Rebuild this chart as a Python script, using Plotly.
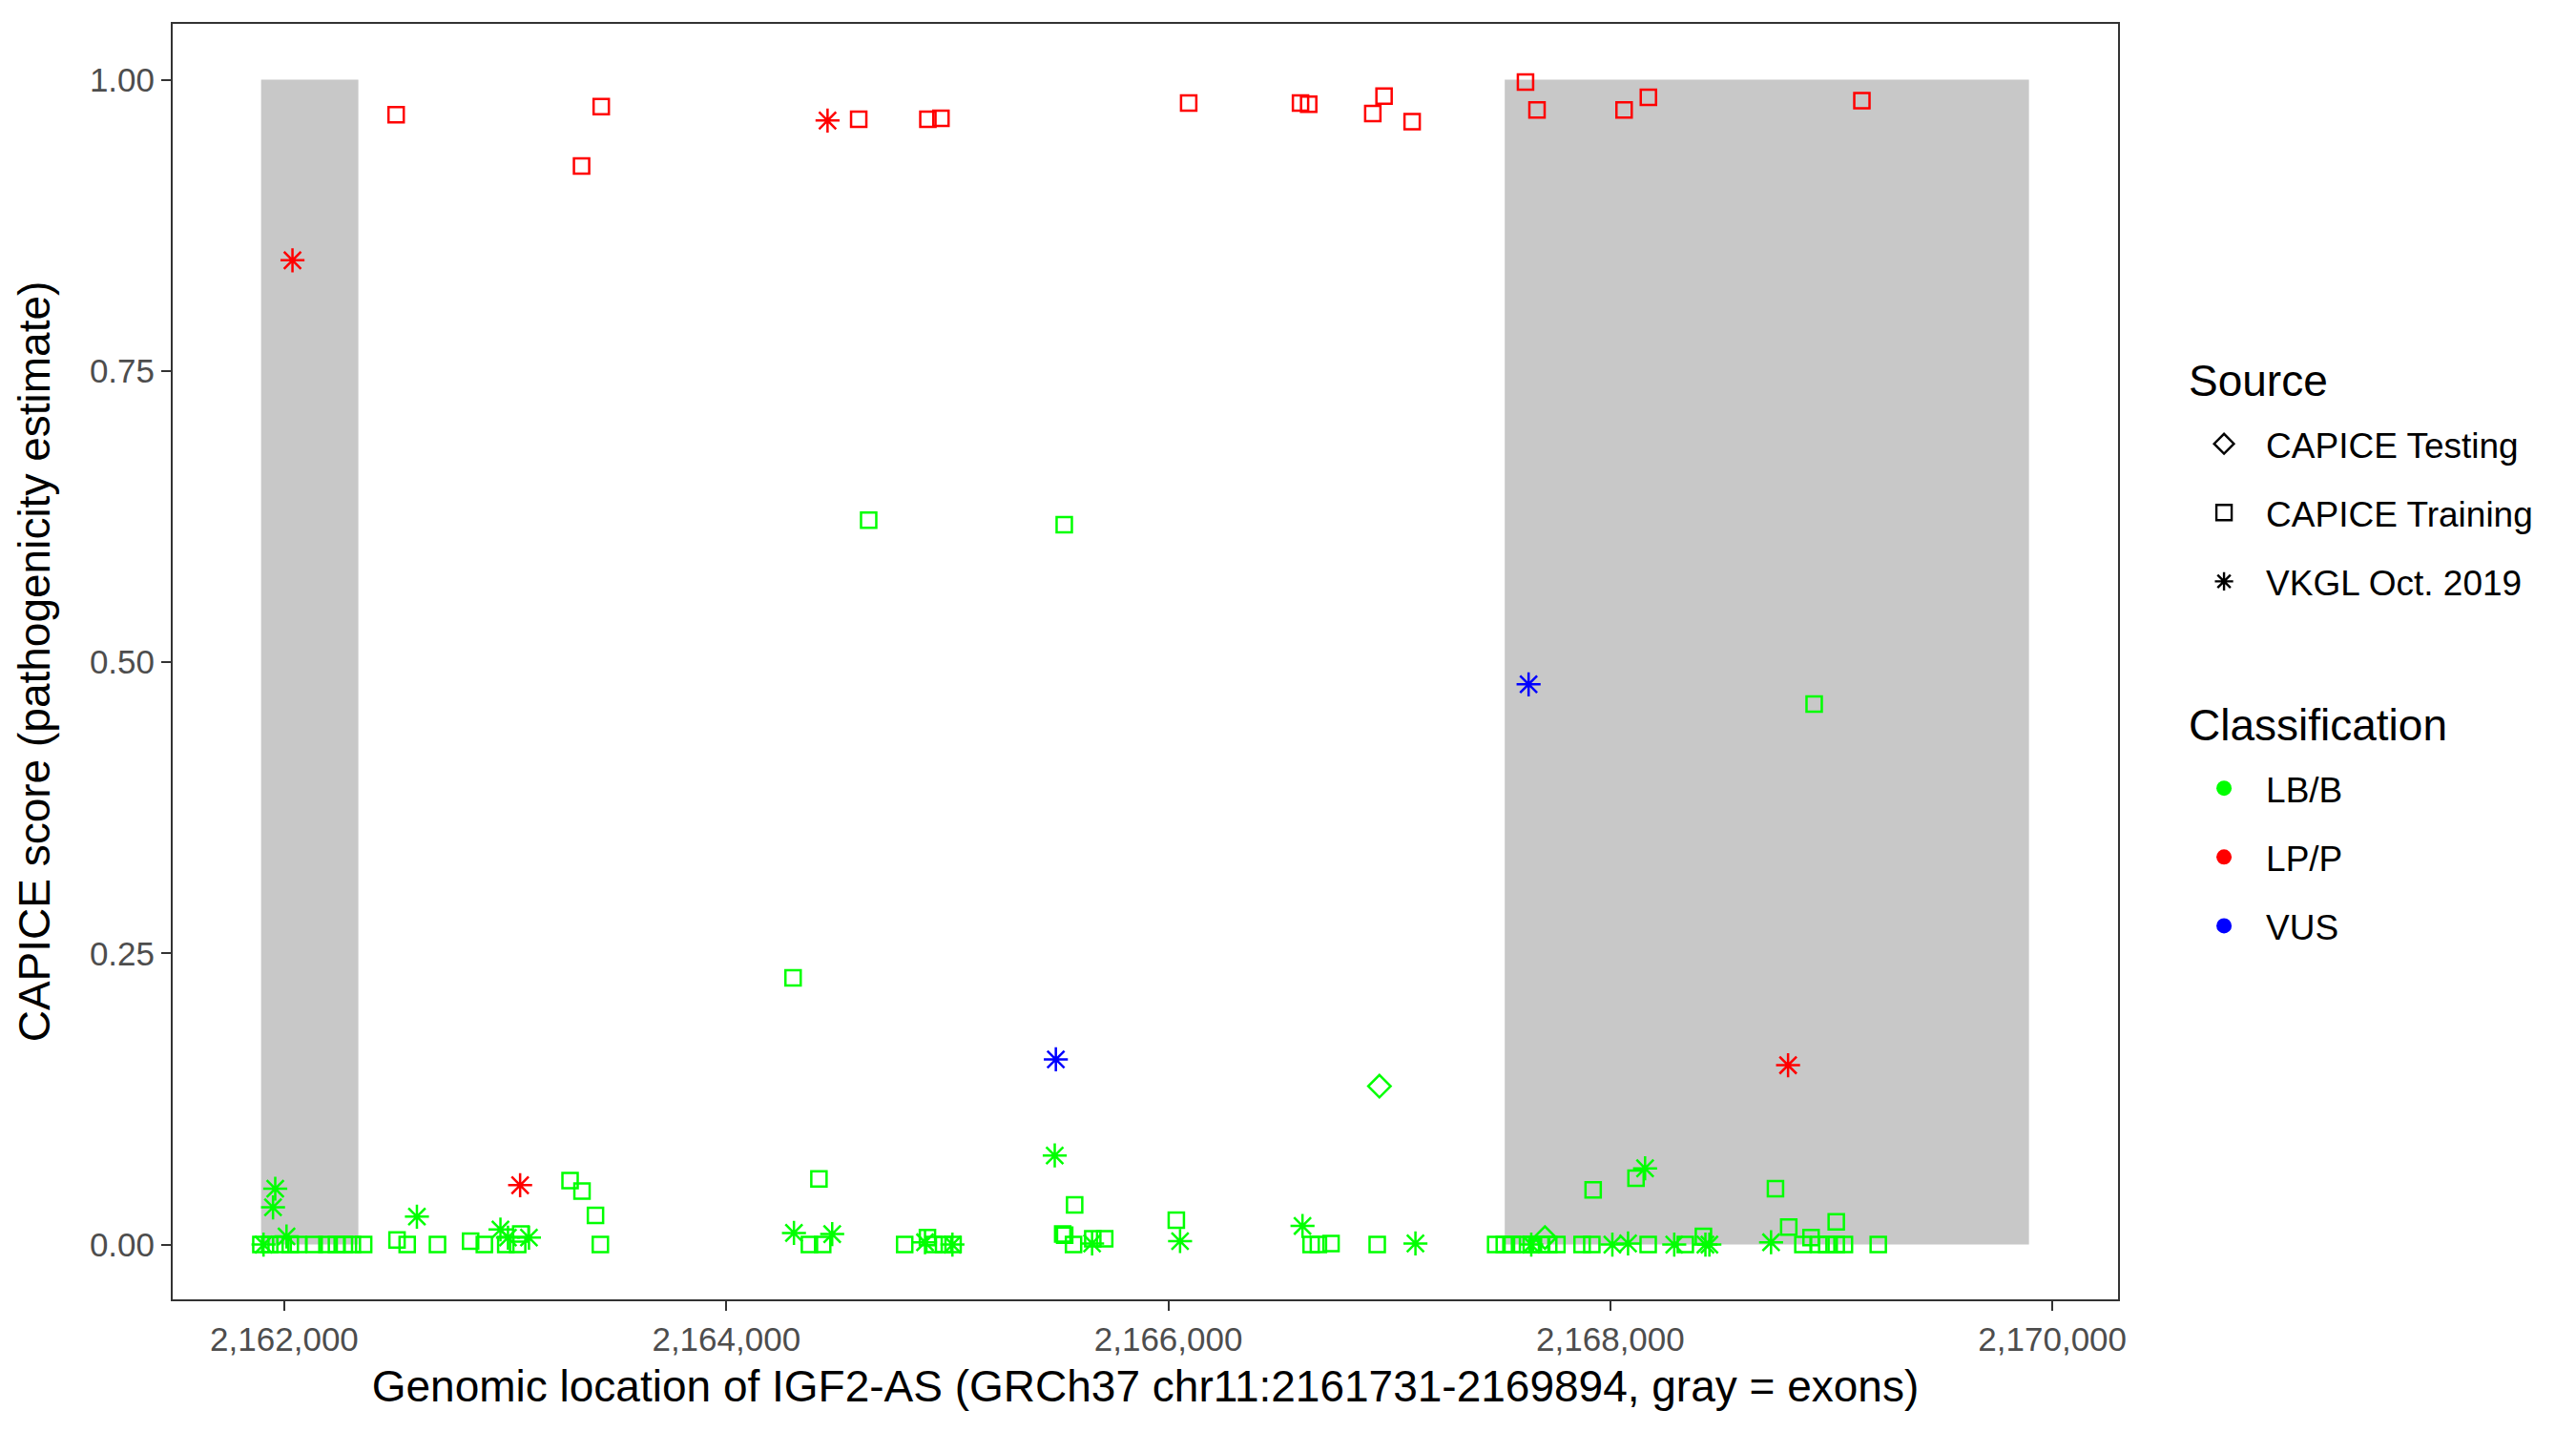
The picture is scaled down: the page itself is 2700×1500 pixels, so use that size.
import plotly.graph_objects as go

# ---------------- data ----------------
exon_start = [2161895, 2167522]
exon_end = [2162335, 2169894]

# CAPICE Training, LB/B (green squares)
train_lbb_x = [2164644, 2165529, 2168922, 2164302,
               2164419, 2163293, 2163347, 2163408, 2163430,
               2166036, 2165576, 2165522, 2165531, 2165571, 2165658, 2165712,
               2167922, 2168116, 2168747, 2168807, 2169022, 2168908, 2168421,
               2162510, 2162843, 2163070, 2164910, 2166736,
               2161894, 2161934, 2161984, 2162027, 2162064, 2162135, 2162193, 2162236,
               2162272, 2162308, 2162359, 2162556, 2162693, 2162905, 2163002, 2163056,
               2164376, 2164436, 2164807, 2164940, 2164983, 2165026,
               2166646, 2166679, 2166945,
               2167481, 2167520, 2167556, 2167599, 2167642, 2167685, 2167721, 2167758,
               2167872, 2167916, 2168171, 2168339, 2168871, 2168943, 2168979, 2169022,
               2169059, 2169212]
train_lbb_y = [0.622, 0.618, 0.464, 0.229,
               0.0565, 0.055, 0.046, 0.025, 0.0,
               0.021, 0.034, 0.009, 0.008, 0.0, 0.005, 0.005,
               0.047, 0.057, 0.048, 0.015, 0.0196, 0.006, 0.007,
               0.004, 0.003, 0.009, 0.006, 0.001,
               0.0, 0.0, 0.0, 0.0, 0.0, 0.0, 0.0, 0.0,
               0.0, 0.0, 0.0, 0.0, 0.0, 0.0, 0.0, 0.0,
               0.0, 0.0, 0.0, 0.0, 0.0, 0.0,
               0.0, 0.0, 0.0,
               0.0, 0.0, 0.0, 0.0, 0.0, 0.0, 0.0, 0.0,
               0.0, 0.0, 0.0, 0.0, 0.0, 0.0, 0.0, 0.0,
               0.0, 0.0]

# CAPICE Training, LP/P (red squares)
train_lpp_x = [2162506, 2163345, 2163434, 2164599, 2164912, 2164971, 2166092,
               2166598, 2166635, 2166925, 2166976, 2167103, 2167616, 2167668,
               2168062, 2168172, 2169138]
train_lpp_y = [0.970, 0.926, 0.977, 0.966, 0.966, 0.967, 0.980,
               0.980, 0.979, 0.971, 0.986, 0.964, 0.998, 0.974,
               0.974, 0.985, 0.982]

# CAPICE Testing, LB/B (green diamonds)
test_lbb_x = [2166955, 2167704]
test_lbb_y = [0.136, 0.006]

# VKGL Oct. 2019 (asterisks)
vkgl_lbb_x = [2161959, 2161949, 2161906, 2162010, 2162600, 2162978, 2163012, 2163107,
              2164306, 2164479, 2164899, 2165023, 2165486, 2165655, 2166053, 2166607,
              2167118, 2167642, 2168009, 2168080, 2168157, 2168289, 2168430, 2168448,
              2168727]
vkgl_lbb_y = [0.048, 0.032, 0.0, 0.007, 0.024, 0.013, 0.006, 0.006,
              0.010, 0.009, 0.002, 0.0, 0.0765, 0.001, 0.003, 0.016,
              0.001, 0.0, 0.0, 0.001, 0.0655, 0.0, 0.0, 0.0,
              0.002]
vkgl_lpp_x = [2162037, 2164458, 2163067, 2168804]
vkgl_lpp_y = [0.845, 0.965, 0.051, 0.154]
vkgl_vus_x = [2167630, 2165491]
vkgl_vus_y = [0.481, 0.159]

source_labels = ["CAPICE Testing", "CAPICE Training", "VKGL Oct. 2019"]
class_labels = ["LB/B", "LP/P", "VUS"]
class_colors = {"LB/B": "#00FF00", "LP/P": "#FF0000", "VUS": "#0000FF"}
source_symbols = {"CAPICE Testing": "diamond-open", "CAPICE Training": "square-open",
                  "VKGL Oct. 2019": "asterisk-open"}
source_sizes = {"CAPICE Testing": 18, "CAPICE Training": 16, "VKGL Oct. 2019": 21}

x_ticks = [2162000, 2164000, 2166000, 2168000, 2170000]
y_ticks = [0.0, 0.25, 0.5, 0.75, 1.0]

FONT = "Liberation Sans, Arial, sans-serif"

fig = go.Figure()

# exons
for s, e in zip(exon_start, exon_end):
    fig.add_shape(type="rect", xref="x", yref="y", x0=s, x1=e, y0=0, y1=1,
                  fillcolor="#C8C8C8", line=dict(width=0), layer="below")

series = [
    ("CAPICE Training", "LB/B", train_lbb_x, train_lbb_y),
    ("CAPICE Training", "LP/P", train_lpp_x, train_lpp_y),
    ("VKGL Oct. 2019", "LB/B", vkgl_lbb_x, vkgl_lbb_y),
    ("VKGL Oct. 2019", "LP/P", vkgl_lpp_x, vkgl_lpp_y),
    ("VKGL Oct. 2019", "VUS", vkgl_vus_x, vkgl_vus_y),
    ("CAPICE Testing", "LB/B", test_lbb_x, test_lbb_y),
]
for src, cls, xs, ys in series:
    col = class_colors[cls]
    fig.add_trace(go.Scatter(
        x=xs, y=ys, mode="markers", showlegend=False, hoverinfo="x+y",
        marker=dict(symbol=source_symbols[src], size=source_sizes[src], color=col,
                    line=dict(width=2.5, color=col))))

# legend entries
for i, src in enumerate(source_labels):
    fig.add_trace(go.Scatter(
        x=[None], y=[None], mode="markers", name=src, legend="legend",
        legendgroup="s%d" % i,
        marker=dict(symbol=source_symbols[src], size=16, color="black",
                    line=dict(width=2.4, color="black"))))
for i, cls in enumerate(class_labels):
    fig.add_trace(go.Scatter(
        x=[None], y=[None], mode="markers", name=cls, legend="legend2",
        legendgroup="c%d" % i,
        marker=dict(symbol="circle", size=16, color=class_colors[cls])))

legend_common = dict(xanchor="left", yanchor="top", bgcolor="rgba(0,0,0,0)",
                     font=dict(family=FONT, size=37, color="black"),
                     tracegroupgap=21, traceorder="grouped", itemwidth=78)

fig.update_layout(
    width=2700, height=1500,
    margin=dict(l=173, r=488, t=17, b=146, autoexpand=False),
    paper_bgcolor="white", plot_bgcolor="white",
    font=dict(family=FONT, color="black"),
    legend=dict(x=1.0329, y=0.6936, **legend_common),
    legend2=dict(x=1.0329, y=0.4236, **legend_common),
    annotations=[
        dict(text="Source", xref="paper", yref="paper", x=1.0353, y=0.7206,
             xanchor="left", yanchor="middle", showarrow=False,
             font=dict(family=FONT, size=46, color="black")),
        dict(text="Classification", xref="paper", yref="paper", x=1.0353, y=0.4503,
             xanchor="left", yanchor="middle", showarrow=False,
             font=dict(family=FONT, size=46, color="black")),
    ],
    xaxis=dict(range=[2161495, 2170297], tickvals=x_ticks, tickformat=",d",
               showgrid=False, zeroline=False, showline=True, mirror=True,
               linecolor="#333333", linewidth=2, ticks="outside", ticklen=10,
               tickwidth=2, tickcolor="#333333",
               tickfont=dict(family=FONT, size=35, color="#4D4D4D"),
               title=dict(text="Genomic location of IGF2-AS (GRCh37 chr11:2161731-2169894, gray = exons)",
                          font=dict(family=FONT, size=46, color="black"), standoff=15)),
    yaxis=dict(range=[-0.047, 1.048], tickvals=y_ticks, tickformat=".2f",
               showgrid=False, zeroline=False, showline=True, mirror=True,
               linecolor="#333333", linewidth=2, ticks="outside", ticklen=10,
               tickwidth=2, tickcolor="#333333",
               tickfont=dict(family=FONT, size=35, color="#4D4D4D"),
               title=dict(text="CAPICE score (pathogenicity estimate)",
                          font=dict(family=FONT, size=46, color="black"), standoff=27)),
)

fig.write_html("out.html")
